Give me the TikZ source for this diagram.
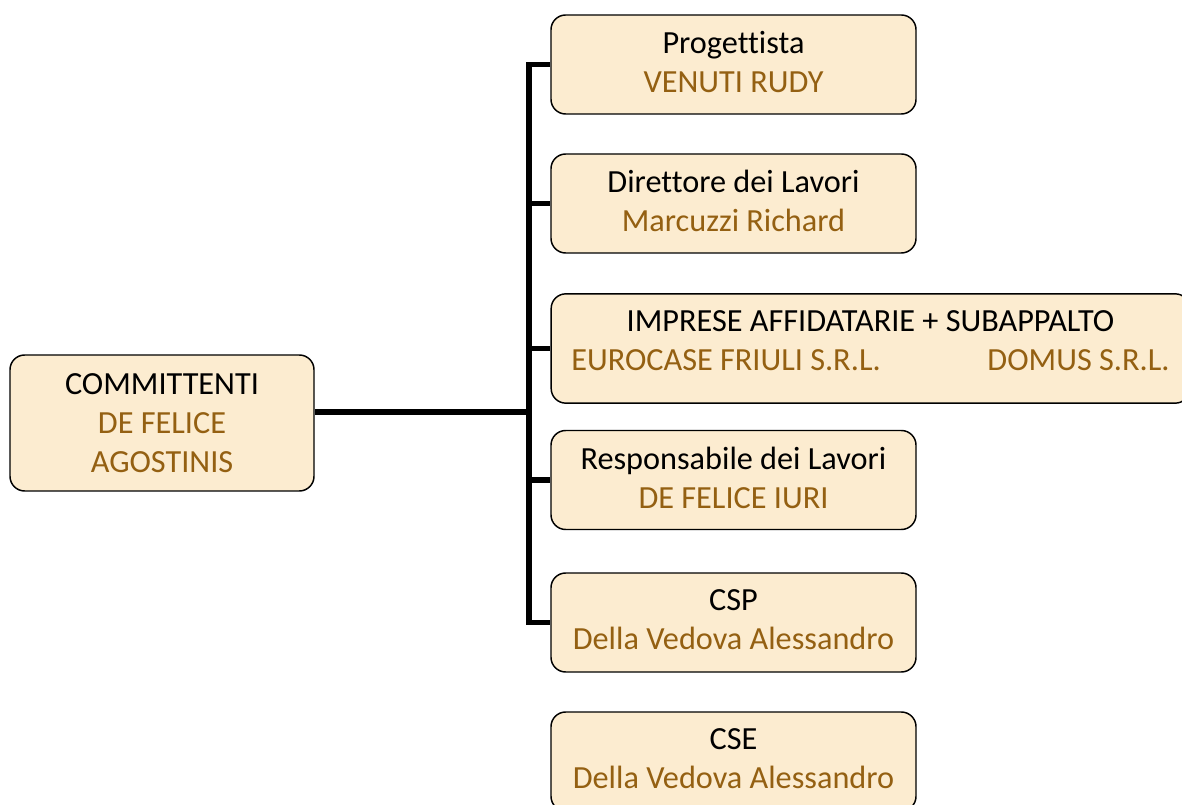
\documentclass[tikz,border=0pt]{standalone}
\usepackage{fontspec}
\setmainfont[Ligatures=NoCommon]{Carlito}
\definecolor{boxfill}{RGB}{252,236,208}
\definecolor{namecol}{RGB}{148,96,18}
\newcommand{\who}[1]{\textcolor{namecol}{#1}}

\begin{document}
\begin{tikzpicture}[x=0.75pt,y=-0.75pt,
    role/.style={draw=black,line width=1.1pt,fill=boxfill,rounded corners=11pt,
        align=center,inner sep=0pt,minimum width=273.75pt,minimum height=74.25pt,
        text depth=4pt,font=\fontsize{24.2}{29.25}\selectfont},
    link/.style={line width=3.9pt}]
    \useasboundingbox (0,0) rectangle (1182,805);

    \node[role,minimum width=228pt,minimum height=102pt,text depth=0pt] (comm) at (162,423)
        {COMMITTENTI\\\who{DE FELICE}\\\who{AGOSTINIS}};
    \node[role] (prog) at (733.5,64.5) {Progettista\\\who{VENUTI RUDY}};
    \node[role] (dir) at (733.5,203.5) {Direttore dei Lavori\\\who{Marcuzzi Richard}};
    \node[role,minimum width=479pt,minimum height=82pt,text depth=12pt] (imp) at (870.5,348.5)
        {IMPRESE AFFIDATARIE + SUBAPPALTO\\\who{EUROCASE FRIULI S.R.L.\hspace{80pt}DOMUS S.R.L.}};
    \node[role] (resp) at (733.5,480) {Responsabile dei Lavori\\\who{DE FELICE IURI}};
    \node[role] (csp) at (733.5,622.5) {CSP\\\who{Della Vedova Alessandro}};
    \node[role] (cse) at (733.5,761.5) {CSE\\\who{Della Vedova Alessandro}};

    \coordinate (hub) at (529,412);
    \draw[link] (comm.east |- hub) -- (hub);
    \foreach \b in {prog,dir,imp,resp,csp}
        \draw[link] (hub) |- (\b.west);
\end{tikzpicture}
\end{document}
